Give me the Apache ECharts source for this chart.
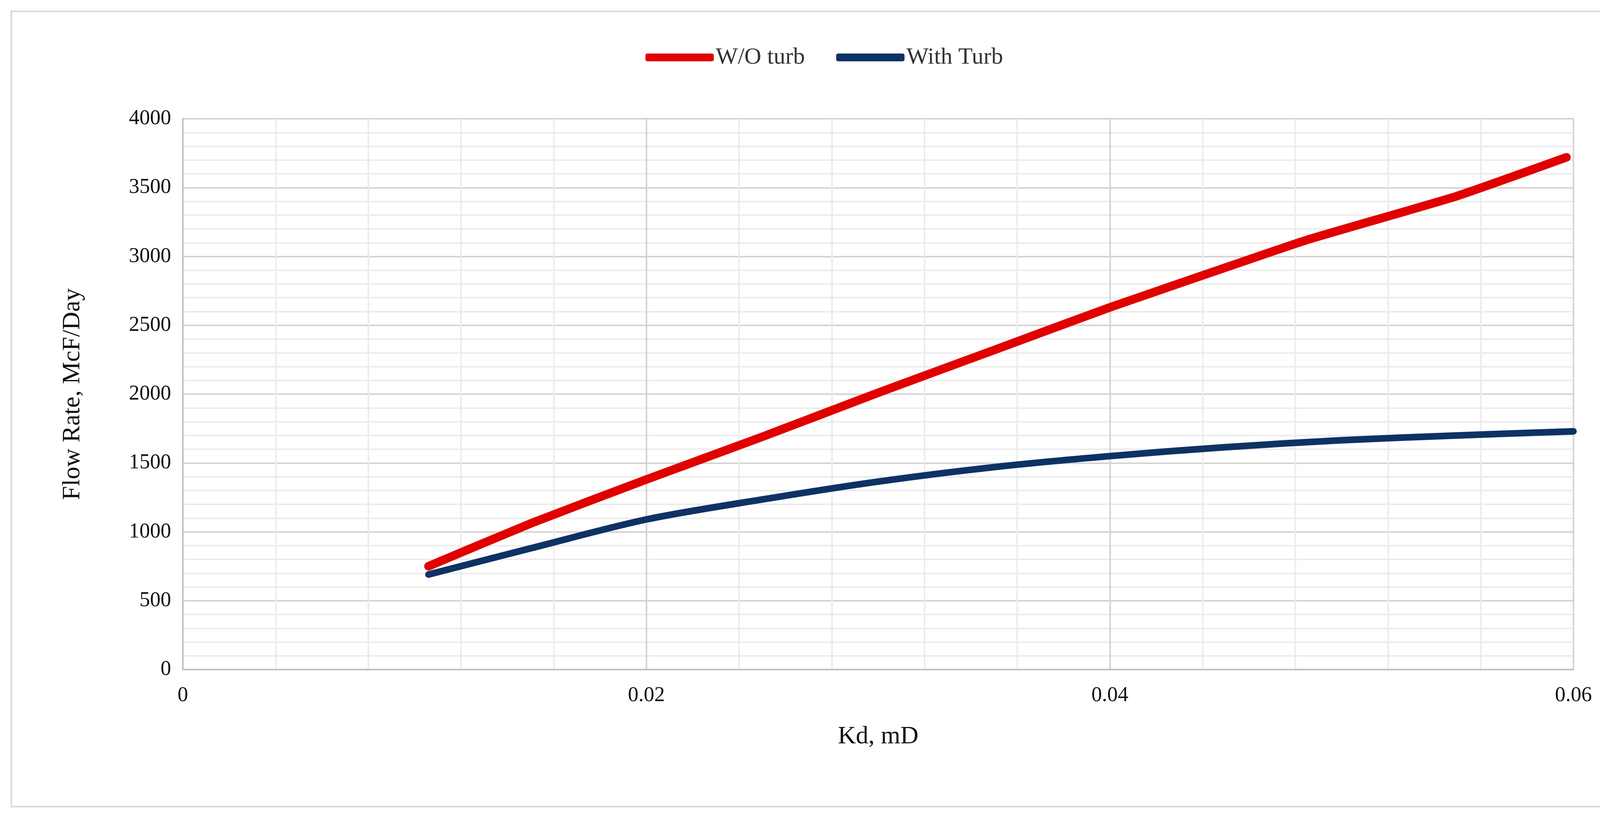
<!DOCTYPE html>
<html>
<head>
<meta charset="utf-8">
<script src="https://cdn.jsdelivr.net/npm/echarts@6/dist/echarts.min.js"></script>
<style>
html,body{margin:0;padding:0;background:#fff;overflow:hidden;}
#frame{position:absolute;left:27px;top:27px;width:4160px;height:2040px;border:4px solid #d9d9d9;box-sizing:border-box;}
#chart{position:absolute;left:0;top:0;width:4220px;height:2112px;}
</style>
</head>
<body>
<div id="frame"></div>
<div id="chart"></div>
<script>
var kdNoTurb = [0.0106, 0.015, 0.02, 0.025, 0.03, 0.035, 0.04, 0.045, 0.0485, 0.055, 0.0597];
var rateNoTurb = [750, 1060, 1380, 1690, 2010, 2320, 2630, 2920, 3120, 3440, 3720];
var kdTurb = [0.0106, 0.015, 0.02, 0.025, 0.03, 0.035, 0.04, 0.045, 0.05, 0.055, 0.06];
var rateTurb = [690, 880, 1090, 1235, 1365, 1470, 1550, 1615, 1665, 1700, 1730];

var fontFam = '"Liberation Serif", "Times New Roman", serif';
var myChart = echarts.init(document.getElementById('chart'));

function pairs(xs, ys) {
    return xs.map(function (x, i) { return [x, ys[i]]; });
}

var option = {
    animation: false,
    grid: { left: 468, right: 192, top: 304, bottom: 398, containLabel: false, outerBoundsMode: 'none' },
    legend: {
        top: 112,
        left: 'center',
        icon: 'roundRect',
        itemWidth: 175,
        itemHeight: 20,
        itemGap: 80,
        textStyle: { fontFamily: fontFam, fontSize: 60, color: '#333' },
        data: ['W/O turb', 'With Turb']
    },
    xAxis: {
        type: 'value',
        min: 0, max: 0.06, interval: 0.02,
        name: 'Kd, mD',
        nameLocation: 'middle',
        nameGap: 140,
        nameTextStyle: { fontFamily: fontFam, fontSize: 64, color: '#111' },
        axisLabel: {
            fontFamily: fontFam, fontSize: 54, color: '#111', margin: 40,
            formatter: function (v) { return v === 0 ? '0' : v.toFixed(2); }
        },
        axisLine: { show: true, lineStyle: { color: '#bfbfbf', width: 4 } },
        axisTick: { show: false },
        splitLine: { show: true, lineStyle: { color: '#d4d4d4', width: 4 } },
        minorTick: { show: false, splitNumber: 5 },
        minorSplitLine: { show: true, lineStyle: { color: '#ececec', width: 4 } }
    },
    yAxis: {
        type: 'value',
        min: 0, max: 4000, interval: 500,
        name: 'Flow Rate, McF/Day',
        nameLocation: 'middle',
        nameGap: 250,
        nameTextStyle: { fontFamily: fontFam, fontSize: 64, color: '#111' },
        axisLabel: {
            fontFamily: fontFam, fontSize: 54, color: '#111', margin: 30,
            formatter: function (v) { return String(v); }
        },
        axisLine: { show: true, lineStyle: { color: '#bfbfbf', width: 4 } },
        axisTick: { show: false },
        splitLine: { show: true, lineStyle: { color: '#d4d4d4', width: 4 } },
        minorTick: { show: false, splitNumber: 5 },
        minorSplitLine: { show: true, lineStyle: { color: '#ececec', width: 4 } }
    },
    series: [{
        name: 'W/O turb',
        type: 'line',
        smooth: 0.15,
        showSymbol: false,
        color: '#e00000',
        lineStyle: { width: 22, cap: 'round' },
        data: pairs(kdNoTurb, rateNoTurb)
    }, {
        name: 'With Turb',
        type: 'line',
        smooth: 0.3,
        showSymbol: false,
        color: '#0d3263',
        lineStyle: { width: 17, cap: 'round' },
        data: pairs(kdTurb, rateTurb)
    }]
};
myChart.setOption(option);
</script>
</body>
</html>
